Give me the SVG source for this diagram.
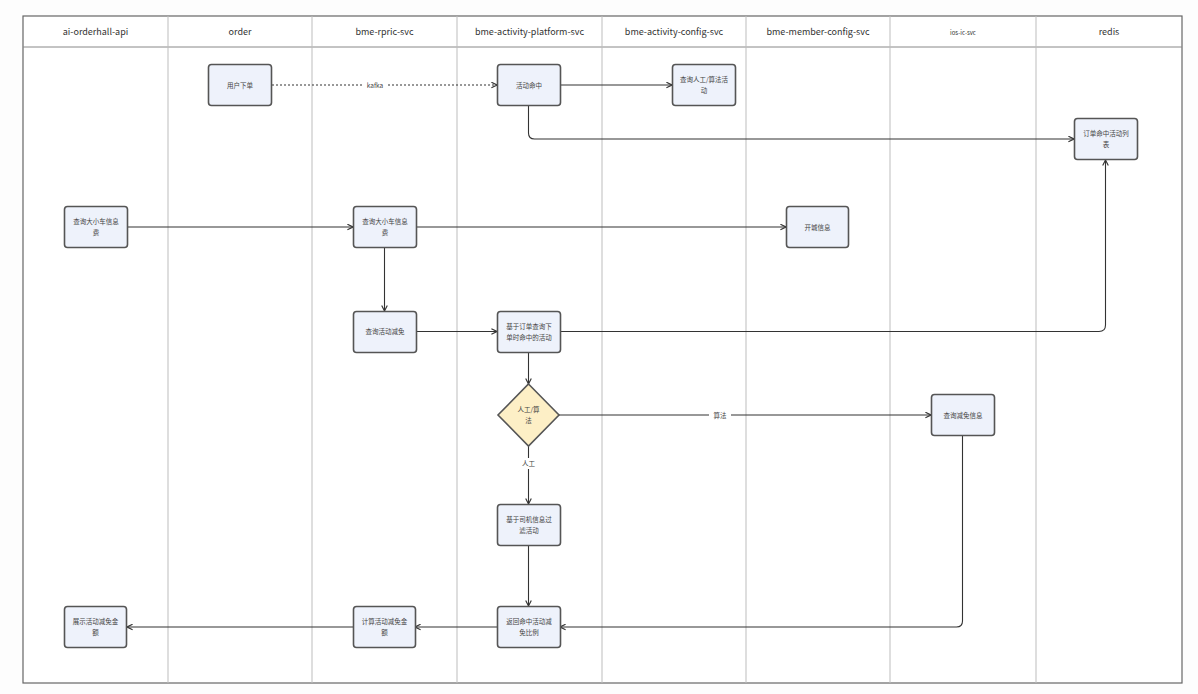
<svg xmlns="http://www.w3.org/2000/svg" width="1198" height="694" viewBox="0 0 1198 694">
<style>
text{font-family:"Noto Sans CJK SC","Noto Sans",sans-serif;fill:#444;}
.hdr{font-size:9px;text-anchor:middle;fill:#333;}
.lane{stroke:#bdbdbd;stroke-width:1;fill:none;}
.node rect{fill:#eef2fb;stroke:#555;stroke-width:1.6;}
.node text{font-size:6.5px;text-anchor:middle;}
.dia polygon{fill:#fdefc6;stroke:#555;stroke-width:1.6;}
.edge{stroke:#333;stroke-width:1.1;fill:none;marker-end:url(#arr);}
.lbl{font-size:6.5px;text-anchor:middle;fill:#444;}
.lblbg{fill:#ffffff;}
</style>
<defs>
<marker id="arr" viewBox="0 0 10 10" refX="9" refY="5" markerWidth="7" markerHeight="7" orient="auto" markerUnits="userSpaceOnUse">
<path d="M1,1 L9,5 L1,9" fill="none" stroke="#333" stroke-width="1.6"/>
</marker>
</defs>
<rect x="0" y="0" width="1198" height="694" fill="#fdfdfd"/>
<g id="lanes">
<rect x="23" y="16" width="1159" height="667" fill="#ffffff" stroke="#666" stroke-width="1.2"/>
<line class="lane" x1="23" y1="47" x2="1182" y2="47" style="stroke:#888"/>
<line class="lane" x1="168" y1="16" x2="168" y2="683"/>
<line class="lane" x1="312" y1="16" x2="312" y2="683"/>
<line class="lane" x1="457" y1="16" x2="457" y2="683"/>
<line class="lane" x1="602" y1="16" x2="602" y2="683"/>
<line class="lane" x1="746" y1="16" x2="746" y2="683"/>
<line class="lane" x1="890" y1="16" x2="890" y2="683"/>
<line class="lane" x1="1036" y1="16" x2="1036" y2="683"/>
<text class="hdr" x="95.5" y="35">ai-orderhall-api</text>
<text class="hdr" x="240" y="35">order</text>
<text class="hdr" x="384.5" y="35">bme-rpric-svc</text>
<text class="hdr" x="529.5" y="35">bme-activity-platform-svc</text>
<text class="hdr" x="674" y="35">bme-activity-config-svc</text>
<text class="hdr" x="818" y="35">bme-member-config-svc</text>
<text class="hdr" x="963" y="35" style="font-size:6px">ios-ic-svc</text>
<text class="hdr" x="1109" y="35">redis</text>
</g>
<g id="connectors">
<path class="edge" d="M272,85 L497,85" stroke-dasharray="2,2"/>
<rect class="lblbg" x="364" y="80" width="22" height="10"/>
<text class="lbl" x="375" y="87.5">kafka</text>
<path class="edge" d="M560,85 L672,85"/>
<path class="edge" d="M528.5,106 L528.5,133 Q528.5,139 534.5,139 L1074,139"/>
<path class="edge" d="M127,227 L353,227"/>
<path class="edge" d="M416,227 L786,227"/>
<path class="edge" d="M384.5,248 L384.5,311"/>
<path class="edge" d="M416,331.5 L497,331.5"/>
<path class="edge" d="M560,331.5 L1099,331.5 Q1105.5,331.5 1105.5,325 L1105.5,160"/>
<path class="edge" d="M528.5,353 L528.5,384"/>
<path class="edge" d="M559,415 L931,415"/>
<rect class="lblbg" x="709" y="410" width="22" height="10"/>
<text class="lbl" x="720" y="417.5">算法</text>
<path class="edge" d="M528.5,446 L528.5,504"/>
<rect class="lblbg" x="516" y="458" width="25" height="11"/>
<text class="lbl" x="528.5" y="466">人工</text>
<path class="edge" d="M528.5,546 L528.5,606"/>
<path class="edge" d="M962.5,436 L962.5,621 Q962.5,627 956.5,627 L560,627"/>
<path class="edge" d="M497,627 L415,627"/>
<path class="edge" d="M353,627 L127,627"/>
</g>
<g id="n_order" class="node"><rect x="208.5" y="64.5" width="63" height="41" rx="3"/><text x="240" y="87.5">用户下单</text></g>
<g id="n_hit" class="node"><rect x="497.5" y="64.5" width="63" height="41" rx="3"/><text x="529" y="87.5">活动命中</text></g>
<g id="n_queryact" class="node"><rect x="672.5" y="64.5" width="63" height="41" rx="3"/><text x="704" y="82">查询人工/算法活</text><text x="704" y="93">动</text></g>
<g id="n_redis" class="node"><rect x="1074.5" y="118.5" width="63" height="41" rx="3"/><text x="1106" y="136">订单命中活动列</text><text x="1106" y="147">表</text></g>
<g id="n_api_fee" class="node"><rect x="64.5" y="206.5" width="63" height="41" rx="3"/><text x="96" y="224">查询大小车信息</text><text x="96" y="235">费</text></g>
<g id="n_rpric_fee" class="node"><rect x="353.5" y="206.5" width="63" height="41" rx="3"/><text x="385" y="224">查询大小车信息</text><text x="385" y="235">费</text></g>
<g id="n_city" class="node"><rect x="786.5" y="206.5" width="62" height="41" rx="3"/><text x="817.5" y="229.5">开城信息</text></g>
<g id="n_reduce" class="node"><rect x="353.5" y="311.5" width="63" height="41" rx="3"/><text x="385" y="334">查询活动减免</text></g>
<g id="n_orderhit" class="node"><rect x="497.5" y="311.5" width="63" height="41" rx="3"/><text x="529" y="329">基于订单查询下</text><text x="529" y="340">单时命中的活动</text></g>
<g id="n_decide" class="dia"><polygon points="528.5,384 559,415 528.5,446 498,415"/><text class="lbl" x="528.5" y="412">人工/算</text><text class="lbl" x="528.5" y="423">法</text></g>
<g id="n_iosreduce" class="node"><rect x="931.5" y="394.5" width="63" height="41" rx="3"/><text x="963" y="417.5">查询减免信息</text></g>
<g id="n_driver" class="node"><rect x="497.5" y="504.5" width="63" height="41" rx="3"/><text x="529" y="522">基于司机信息过</text><text x="529" y="533">滤活动</text></g>
<g id="n_ratio" class="node"><rect x="497.5" y="606.5" width="63" height="41" rx="3"/><text x="529" y="624">返回命中活动减</text><text x="529" y="635">免比例</text></g>
<g id="n_calc" class="node"><rect x="353.5" y="606.5" width="62" height="41" rx="3"/><text x="384.5" y="624">计算活动减免金</text><text x="384.5" y="635">额</text></g>
<g id="n_show" class="node"><rect x="64.5" y="606.5" width="62" height="41" rx="3"/><text x="95.5" y="624">展示活动减免金</text><text x="95.5" y="635">额</text></g>
</svg>
